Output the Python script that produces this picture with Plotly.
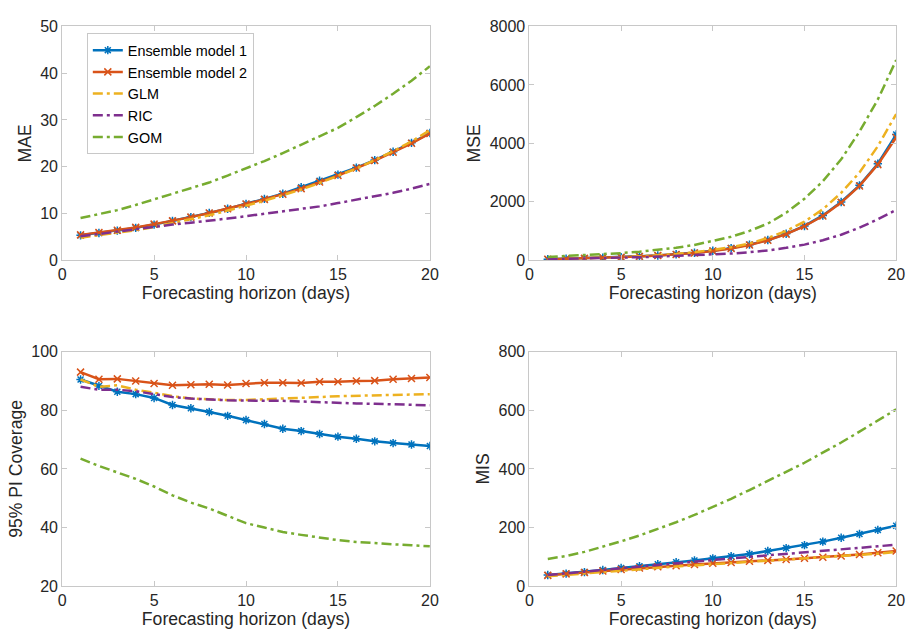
import plotly.graph_objects as go
from plotly.subplots import make_subplots

horizon = list(range(1, 21))

# MAE
mae_ens1 = [5.3, 5.8, 6.3, 6.9, 7.6, 8.4, 9.2, 10.1, 11.0, 12.0, 13.1, 14.2, 15.6, 17.0, 18.3, 19.8, 21.4, 23.2, 25.1, 27.2]
mae_ens2 = [5.4, 5.9, 6.4, 7.0, 7.7, 8.4, 9.2, 10.1, 11.0, 12.0, 13.0, 14.1, 15.3, 16.7, 18.1, 19.7, 21.3, 23.1, 25.0, 27.1]
mae_glm = [4.8, 5.3, 5.8, 6.4, 7.1, 7.9, 8.7, 9.6, 10.6, 11.6, 12.7, 13.9, 15.1, 16.5, 18.0, 19.6, 21.4, 23.3, 25.4, 27.8]
mae_ric = [5.1, 5.6, 6.1, 6.6, 7.2, 7.6, 8.0, 8.4, 8.9, 9.4, 9.9, 10.4, 10.9, 11.5, 12.2, 12.9, 13.6, 14.4, 15.3, 16.3]
mae_gom = [9.0, 9.8, 10.7, 11.8, 13.0, 14.1, 15.3, 16.6, 18.1, 19.6, 21.2, 22.9, 24.7, 26.5, 28.3, 30.6, 33.0, 35.6, 38.4, 41.5]

# MSE
mse_ens1 = [30, 45, 60, 80, 100, 130, 160, 200, 250, 320, 410, 530, 690, 900, 1170, 1530, 1990, 2560, 3300, 4300]
mse_ens2 = [30, 45, 60, 80, 100, 125, 155, 195, 245, 310, 400, 520, 680, 890, 1160, 1510, 1970, 2540, 3270, 4200]
mse_glm = [25, 40, 55, 75, 100, 130, 165, 210, 270, 345, 440, 570, 760, 1000, 1320, 1740, 2300, 3000, 3900, 5000]
mse_ric = [30, 40, 55, 70, 85, 100, 120, 145, 160, 190, 225, 270, 330, 420, 530, 680, 870, 1110, 1400, 1720]
mse_gom = [110, 140, 170, 200, 240, 290, 350, 420, 520, 650, 800, 1000, 1250, 1620, 2100, 2700, 3450, 4400, 5500, 6850]

# 95% prediction interval coverage
cov_ens1 = [90.5, 88.3, 86.3, 85.5, 84.2, 81.8, 80.7, 79.4, 78.1, 76.7, 75.3, 73.7, 72.9, 71.9, 71.0, 70.3, 69.4, 68.8, 68.3, 67.8]
cov_ens2 = [93.0, 90.6, 90.7, 90.0, 89.1, 88.5, 88.7, 88.9, 88.6, 89.1, 89.4, 89.4, 89.3, 89.7, 89.7, 90.0, 90.1, 90.6, 90.8, 91.2]
cov_glm = [90.5, 88.0, 88.5, 87.0, 86.0, 84.8, 84.0, 83.7, 83.5, 83.5, 83.7, 84.0, 84.2, 84.5, 84.8, 84.9, 85.0, 85.1, 85.3, 85.5]
cov_ric = [88.0, 87.0, 87.0, 86.5, 85.5, 84.5, 84.0, 83.6, 83.4, 83.3, 83.3, 83.2, 83.0, 82.7, 82.5, 82.3, 82.2, 82.0, 81.8, 81.7]
cov_gom = [63.5, 61.0, 58.8, 56.6, 54.0, 51.0, 48.5, 46.5, 44.0, 41.5, 40.0, 38.5, 37.5, 36.5, 35.7, 35.1, 34.6, 34.3, 34.0, 33.6]

# MIS
mis_ens1 = [38, 43, 48, 55, 62, 68, 75, 82, 88, 95, 102, 110, 120, 130, 140, 152, 165, 178, 192, 206]
mis_ens2 = [37, 42, 47, 52, 57, 62, 66, 70, 74, 78, 81, 85, 88, 91, 95, 99, 103, 108, 114, 120]
mis_glm = [34, 39, 44, 49, 54, 59, 63, 67, 71, 75, 78, 82, 85, 89, 93, 97, 101, 106, 111, 117]
mis_ric = [38, 43, 49, 55, 61, 67, 73, 79, 85, 90, 95, 100, 105, 109, 114, 119, 124, 130, 136, 142]
mis_gom = [93, 103, 117, 134, 153, 173, 195, 218, 243, 270, 298, 328, 360, 390, 421, 455, 490, 527, 565, 603]

model_names = ["Ensemble model 1", "Ensemble model 2", "GLM", "RIC", "GOM"]
colors = ["#0072BD", "#D95319", "#EDB120", "#7E2F8E", "#77AC30"]

panels = [
    (1, 1, "MAE", [0, 50], 10, [mae_ens1, mae_ens2, mae_glm, mae_ric, mae_gom]),
    (1, 2, "MSE", [0, 8000], 2000, [mse_ens1, mse_ens2, mse_glm, mse_ric, mse_gom]),
    (2, 1, "95% PI Coverage", [20, 100], 20, [cov_ens1, cov_ens2, cov_glm, cov_ric, cov_gom]),
    (2, 2, "MIS", [0, 800], 200, [mis_ens1, mis_ens2, mis_glm, mis_ric, mis_gom]),
]

fig = make_subplots(rows=2, cols=2)

TICK_FS = 16
TITLE_FS = 17.6
dashdot = "10px,4px,3px,4px"
for (r, c, ytitle, yrange, dtick, series) in panels:
    first = (r == 1 and c == 1)
    for i, (name, col, ys) in enumerate(zip(model_names, colors, series)):
        if i == 0:
            tr = go.Scatter(x=horizon, y=ys, mode="lines+markers", name=name,
                            line=dict(color=col, width=2.5),
                            marker=dict(symbol="asterisk-open", size=7,
                                        line=dict(color=col, width=1.5)))
        elif i == 1:
            tr = go.Scatter(x=horizon, y=ys, mode="lines+markers", name=name,
                            line=dict(color=col, width=2.5),
                            marker=dict(symbol="x-thin-open", size=7,
                                        line=dict(color=col, width=1.5)))
        else:
            tr = go.Scatter(x=horizon, y=ys, mode="lines", name=name,
                            line=dict(color=col, width=2.5, dash=dashdot))
        tr.showlegend = first
        fig.add_trace(tr, row=r, col=c)
    axis_common = dict(showline=True, mirror="ticks", linecolor="#c8c8c8", linewidth=1,
                       ticks="inside", ticklen=5, tickcolor="#c8c8c8",
                       showgrid=False, zeroline=False,
                       tickfont=dict(size=TICK_FS, color="#262626"))
    fig.update_xaxes(range=[0, 20], dtick=5, tick0=0,
                     title=dict(text="Forecasting horizon (days)", standoff=3,
                                font=dict(size=TITLE_FS, color="#262626")),
                     row=r, col=c, **axis_common)
    fig.update_yaxes(range=yrange, dtick=dtick, tick0=yrange[0],
                     title=dict(text=ytitle, standoff=4,
                                font=dict(size=TITLE_FS, color="#262626")),
                     row=r, col=c, **axis_common)

W, H = 917, 639
xd1 = [59 / W, 432 / W]
xd2 = [533 / W, 905 / W]
yd_top = [1 - 259 / H, 1 - 19 / H]
yd_bot = [1 - 594 / H, 1 - 353 / H]
fig.update_layout(
    xaxis=dict(domain=xd1), xaxis2=dict(domain=xd2),
    xaxis3=dict(domain=xd1), xaxis4=dict(domain=xd2),
    yaxis=dict(domain=yd_top), yaxis2=dict(domain=yd_top),
    yaxis3=dict(domain=yd_bot), yaxis4=dict(domain=yd_bot),
)

fig.update_layout(
    width=W, height=H,
    margin=dict(l=0, r=0, t=0, b=0),
    paper_bgcolor="white", plot_bgcolor="white",
    font=dict(family="Liberation Sans, Arial, sans-serif", size=TICK_FS, color="#262626"),
    legend=dict(x=84 / W, y=1 - 26 / H, xanchor="left", yanchor="top",
                bgcolor="white", bordercolor="#c8c8c8", borderwidth=1,
                font=dict(size=14.4, color="#000000"), itemwidth=30,
                tracegroupgap=0),
)

fig.write_html("out.html")
